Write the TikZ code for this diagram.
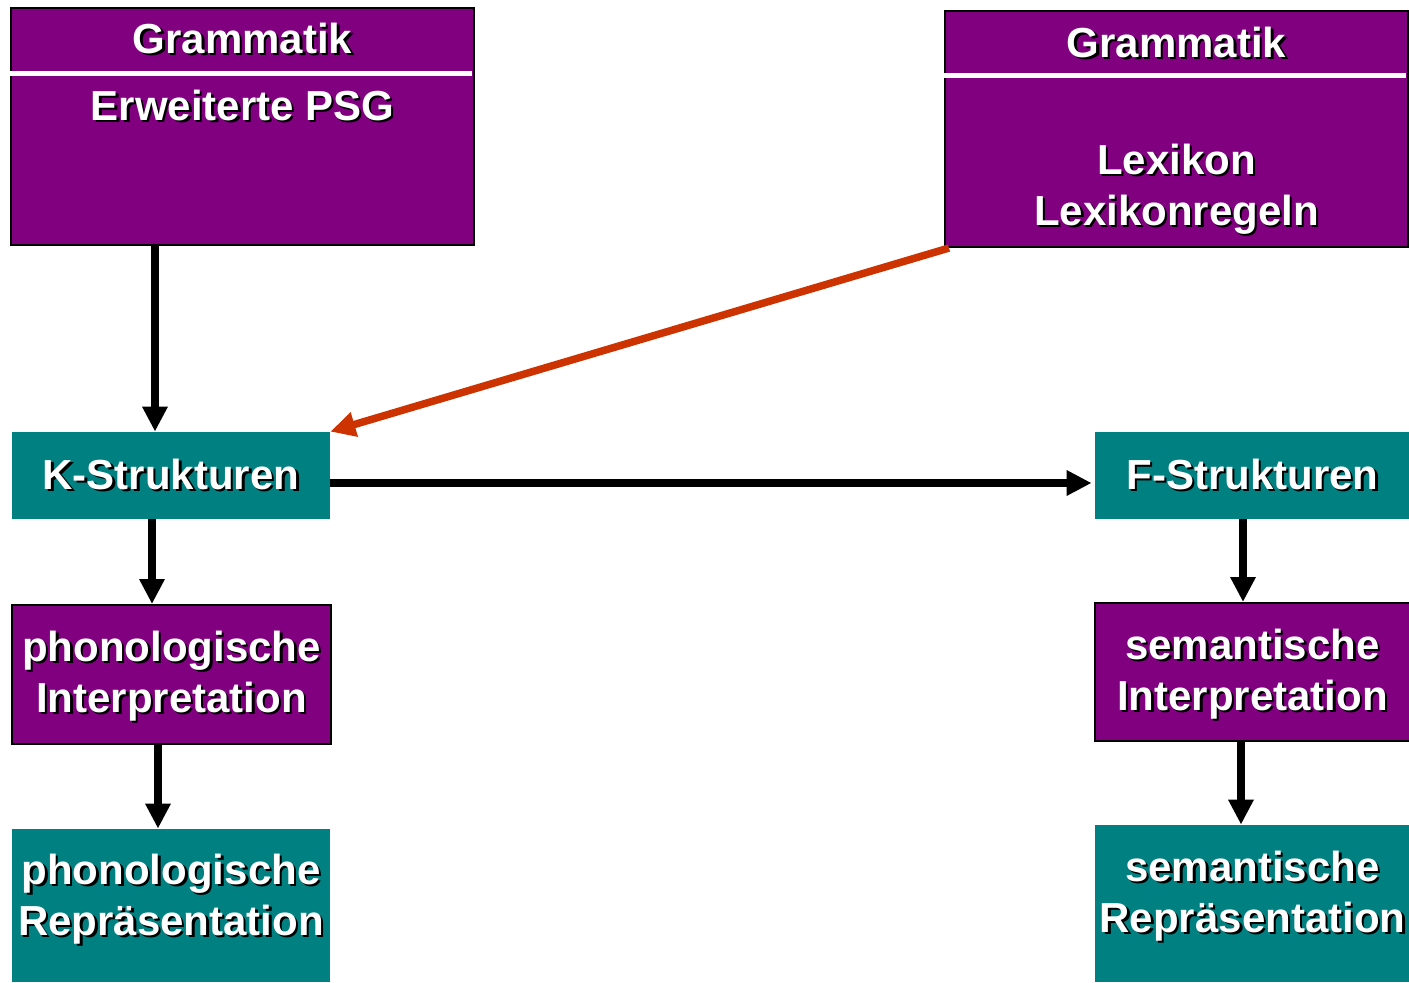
\documentclass[tikz,border=0pt]{standalone}
\usepackage{fontspec}
\setmainfont{Liberation Sans}
\usetikzlibrary{arrows.meta}
\definecolor{lila}{HTML}{800080}
\definecolor{petrol}{HTML}{008080}
\definecolor{rostrot}{HTML}{CC3300}
\newcommand{\shd}[1]{\rlap{\kern1.2pt\lower1.2pt\hbox{\color{black}#1}}#1}

\begin{document}
\begin{tikzpicture}[x=0.5pt, y=-0.5pt,
    lilabox/.style={draw=black, line width=1pt, fill=lila, inner sep=0pt},
    tealbox/.style={fill=petrol, inner sep=0pt},
    txt/.style={text=white, font=\fontsize{21}{25.5}\selectfont\bfseries, align=center, inner sep=0pt},
    pfeil/.style={line width=3.75pt, -{Triangle[width=12pt,length=12.5pt]}}]
    \useasboundingbox (0,0) rectangle (1409,982);

    % Grammatik oben
    \node[lilabox, minimum width=231.5pt, minimum height=118.5pt] (gram1) at (242.5,126.5) {};
    \node[lilabox, minimum width=231.5pt, minimum height=118pt] (gram2) at (1176.5,129) {};
    \draw[white, line width=2.5pt] ([xshift=-3pt,yshift=-33.25pt]gram1.north west) -- ([xshift=-1.5pt,yshift=-33.25pt]gram1.north east);
    \draw[white, line width=2.5pt] ([xshift=-2.5pt,yshift=-32.75pt]gram2.north west) -- ([xshift=-1.5pt,yshift=-32.75pt]gram2.north east);
    \node[txt, anchor=base] (gram1-titel) at (242.5,53) {\shd{Grammatik}};
    \node[txt, anchor=base] (gram1-text) at (242.5,120) {\shd{Erweiterte PSG}};
    \node[txt, anchor=base] (gram2-titel) at (1176.5,57) {\shd{Grammatik}};
    \node[txt] (gram2-text) at (1176.5,190) {\shd{Lexikon}\\\shd{Lexikonregeln}};

    % Strukturen
    \node[tealbox, txt, minimum width=159pt, minimum height=43.5pt] (kstr) at (171,475.5) {\shd{K-Strukturen}};
    \node[tealbox, txt, minimum width=157.5pt, minimum height=43.5pt] (fstr) at (1252.5,475.5) {\shd{F-Strukturen}};

    % Interpretation
    \node[lilabox, minimum width=159.5pt, minimum height=69.5pt] (phonint) at (171.5,674.5) {};
    \node[lilabox, minimum width=157.5pt, minimum height=69pt] (semint) at (1252.5,672) {};
    \node[txt] (phonint-text) at (171.5,677) {\shd{phonologische}\\\shd{Interpretation}};
    \node[txt] (semint-text) at (1252.5,675) {\shd{semantische}\\\shd{Interpretation}};

    % Repraesentation
    \node[tealbox, minimum width=159pt, minimum height=76.5pt] (phonrep) at (171,905.5) {};
    \node[tealbox, minimum width=157.5pt, minimum height=78.5pt] (semrep) at (1252.5,903.5) {};
    \node[txt] (phonrep-text) at (171,900) {\shd{phonologische}\\\shd{Repräsentation}};
    \node[txt] (semrep-text) at (1252.5,897) {\shd{semantische}\\\shd{Repräsentation}};

    % Pfeile
    \draw[pfeil] ([xshift=-43.75pt]gram1.south) -- ([xshift=-8pt]kstr.north);
    \draw[pfeil, rostrot] ([xshift=2.5pt]gram2.south west) -- (kstr.north east);
    \draw[pfeil] ([yshift=-3.75pt]kstr.east) -- ([xshift=-1.5pt,yshift=-3.75pt]fstr.west);
    \draw[pfeil] ([xshift=-9.5pt]kstr.south) -- ([xshift=-9.75pt]phonint.north);
    \draw[pfeil] ([xshift=-6.75pt]phonint.south) -- ([xshift=-6.5pt]phonrep.north);
    \draw[pfeil] ([xshift=-4.75pt]fstr.south) -- ([xshift=-4.75pt]semint.north);
    \draw[pfeil] ([xshift=-5.75pt]semint.south) -- ([xshift=-5.75pt]semrep.north);
\end{tikzpicture}
\end{document}
